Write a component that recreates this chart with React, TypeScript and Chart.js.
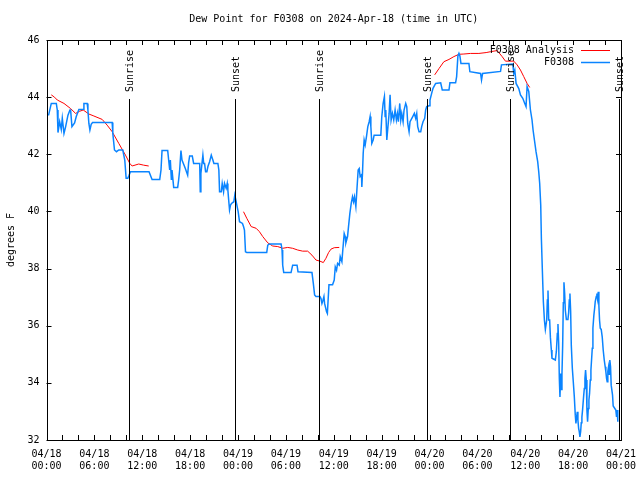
import React, { useEffect, useRef } from 'react';
import { Chart, registerables } from 'chart.js';

Chart.register(...registerables);

// Hours since 2024-04-18 00:00 UTC
const obsHours = [
  0.1, 0.27, 0.6, 1.23, 1.35, 1.44, 1.65, 1.85, 1.98, 2.19, 2.4, 2.69, 2.94, 3.02, 3.19, 3.52, 3.73, 4.06, 4.6, 4.69,
  5.1, 5.19, 5.31, 5.44, 5.6, 5.77, 8.23, 8.31, 8.52, 8.77, 9.06, 9.56, 9.81, 9.98, 10.19, 10.31, 10.52, 12.85, 13.23, 14.19,
  14.35, 14.48, 15.19, 15.31, 15.44, 15.52, 15.65, 15.73, 15.94, 16.44, 16.56, 16.69, 16.85, 16.98, 17.19, 17.4, 17.69, 17.81, 17.94, 18.27,
  18.44, 19.2, 19.27, 19.35, 19.6, 19.7, 19.81, 19.94, 20.1, 20.23, 20.44, 20.65, 20.85, 20.98, 21.48, 21.6, 21.69, 21.9, 22.02, 22.19,
  22.31, 22.52, 22.65, 22.73, 22.85, 22.94, 23.06, 23.19, 23.48, 23.6, 23.77, 23.9, 24.02, 24.19, 24.56, 24.69, 24.81, 24.94, 25.1, 27.6,
  27.73, 27.94, 29.4, 29.52, 29.6, 29.73, 30.65, 30.85, 31.4, 31.52, 33.27, 33.44, 33.6, 33.77, 34.27, 34.4, 34.52, 34.65, 34.77, 34.85,
  35.1, 35.2, 35.4, 35.85, 36.06, 36.19, 36.35, 36.48, 36.69, 36.81, 37.02, 37.1, 37.31, 37.44, 37.52, 37.73, 37.85, 38.02, 38.19, 38.35,
  38.48, 38.6, 38.77, 38.9, 39.06, 39.19, 39.31, 39.48, 39.52, 39.6, 39.69, 39.81, 39.94, 40.1, 40.27, 40.44, 40.56, 40.65, 40.77, 40.94,
  41.06, 41.9, 42.02, 42.19, 42.35, 42.44, 42.52, 42.65, 42.77, 42.94, 43.06, 43.19, 43.35, 43.52, 43.69, 43.85, 43.98, 44.1, 44.27, 44.4,
  44.52, 44.69, 44.81, 45.02, 45.15, 45.27, 45.44, 45.56, 45.9, 46.1, 46.27, 46.4, 46.52, 46.69, 46.9, 47.02, 47.19, 47.4, 47.52, 47.65,
  47.94, 48.06, 48.27, 48.44, 48.77, 49.4, 49.6, 50.44, 50.56, 51.27, 51.4, 51.56, 51.69, 51.81, 51.94, 52.94, 53.06, 54.4, 54.52, 54.65,
  56.9, 57.02, 58.44, 58.56, 58.69, 58.85, 59.19, 59.4, 59.69, 59.94, 60.1, 60.23, 60.44, 60.65, 60.85, 60.98, 61.15, 61.35, 61.56, 61.69,
  61.81, 61.94, 62.02, 62.15, 62.27, 62.4, 62.52, 62.69, 62.77, 62.85, 62.94, 63.06, 63.15, 63.27, 63.35, 63.77, 63.9, 64.02, 64.1, 64.19,
  64.27, 64.35, 64.44, 64.52, 64.6, 64.69, 64.77, 64.85, 64.94, 65.02, 65.15, 65.35, 65.44, 65.52, 65.6, 65.69, 65.77, 65.9, 66.02, 66.15,
  66.27, 66.35, 66.44, 66.52, 66.6, 66.69, 66.77, 66.85, 66.94, 67.02, 67.1, 67.19, 67.31, 67.4, 67.48, 67.56, 67.65, 67.73, 67.81, 67.9,
  67.98, 68.06, 68.15, 68.23, 68.31, 68.4, 68.48, 68.6, 68.69, 68.77, 68.9, 68.98, 69.06, 69.15, 69.23, 69.31, 69.4, 69.52, 69.65, 69.77,
  69.9, 70.02, 70.1, 70.19, 70.27, 70.35, 70.44, 70.52, 70.6, 70.69, 70.77, 70.94, 71.02, 71.35, 71.44, 71.52, 71.6,
];

const obsDewPoint = [
  43.38, 43.38, 43.78, 43.78, 43.55, 42.76, 43.14, 42.87, 43.26, 42.73, 42.97, 43.37, 43.55, 43.55, 42.97, 43.1, 43.32, 43.57, 43.58, 43.78,
  43.78, 43.55, 43.08, 42.85, 43.05, 43.11, 43.11, 42.73, 42.15, 42.09, 42.15, 42.15, 41.8, 41.16, 41.16, 41.24, 41.39, 41.39, 41.12, 41.12,
  41.45, 42.13, 42.13, 41.8, 41.45, 41.8, 41.1, 41.45, 40.84, 40.84, 41.1, 41.45, 42.13, 41.8, 41.65, 41.5, 41.27, 41.7, 41.94, 41.94,
  41.68, 41.68, 40.69, 41.33, 41.97, 41.68, 41.68, 41.39, 41.39, 41.57, 41.74, 41.97, 41.8, 41.68, 41.68, 41.45, 40.69, 40.69, 40.98, 40.69,
  40.98, 40.81, 40.98, 40.75, 40.34, 40.05, 40.22, 40.28, 40.34, 40.57, 40.34, 40.16, 39.99, 39.64, 39.58, 39.47, 39.35, 38.59, 38.56, 38.56,
  38.82, 38.86, 38.86, 38.65, 38.12, 37.86, 37.86, 38.12, 38.12, 37.89, 37.86, 37.48, 37.08, 37.02, 37.02, 36.95, 36.78, 36.89, 37.02, 36.78,
  36.49, 36.43, 37.43, 37.43, 37.6, 38.06, 37.94, 38.18, 38.12, 38.42, 38.24, 38.53, 39.23, 39.12, 38.9, 39.12, 39.47, 39.93, 40.28, 40.51,
  40.34, 40.51, 40.17, 40.75, 41.45, 41.5, 41.22, 41.28, 40.86, 41.33, 42.03, 42.5, 42.33, 42.62, 42.97, 43.14, 43.32, 42.97, 42.38, 42.5,
  42.67, 42.67, 43.32, 43.78, 44.02, 43.32, 43.55, 42.5, 42.9, 43.43, 44.08, 43.2, 43.43, 43.2, 43.55, 43.2, 43.43, 43.14, 43.78, 43.2,
  43.43, 43.14, 43.55, 43.78, 43.67, 43.08, 42.79, 43.14, 43.32, 43.43, 43.26, 43.43, 42.97, 42.79, 42.79, 42.97, 43.14, 43.26, 43.55, 43.67,
  43.7, 43.9, 44.13, 44.31, 44.48, 44.5, 44.25, 44.25, 44.5, 44.5, 44.72, 45.44, 45.53, 45.44, 45.18, 45.18, 44.89, 44.83, 44.6, 44.83,
  44.9, 45.13, 45.16, 44.83, 44.95, 44.48, 44.3, 44.08, 43.96, 43.78, 43.67, 44.37, 44.2, 43.55, 43.2, 42.85, 42.5, 42.09, 41.74, 41.39,
  40.98, 40.22, 39.06, 37.89, 36.84, 36.2, 35.87, 36.2, 36.9, 37.23, 36.2, 36.2, 35.6, 35.15, 34.86, 34.8, 35.1, 35.73, 36.06, 35.38,
  34.16, 33.51, 34.33, 33.77, 34.3, 35.32, 36.8, 37.52, 37.13, 36.55, 36.22, 36.22, 36.46, 36.9, 37.13, 36.5, 35.32, 34.51, 34.04, 33.51,
  32.87, 32.58, 32.8, 32.99, 32.7, 32.41, 32.29, 32.11, 32.29, 32.6, 32.8, 33.07, 33.51, 33.8, 34.16, 34.45, 34.1, 33.05, 32.64, 33.1,
  33.4, 33.63, 34.1, 34.45, 34.8, 35.21, 35.91, 36.37, 36.6, 36.84, 37.02, 37.13, 36.95, 37.19, 36.7, 36.2, 35.91, 35.87, 35.6, 35.15,
  34.8, 34.56, 34.4, 34.16, 34.04, 34.4, 34.56, 34.3, 34.8, 34.56, 33.92, 33.57, 33.19, 33.05, 32.81, 33.05, 32.64,
];

const anaHours = [
  0.6, 1.0, 1.35, 2.19, 3.02, 3.65, 4.1, 4.6, 5.31, 5.94, 6.98, 7.6, 8.23, 9.06, 9.9, 10.44, 10.73, 11.56, 12.17, 12.81,
  18.0,
  24.69, 25.1, 25.65, 26.27, 26.69, 27.1, 27.73, 28.35, 28.98, 29.6, 30.23, 30.85, 31.48, 32.1, 32.73, 33.27, 33.77, 34.27, 34.69,
  35.02, 35.35, 35.65, 36.06, 36.69,
  42.0,
  48.65, 49.19, 49.8, 50.44, 51.06, 51.69, 52.31, 53.15, 54.19, 55.1, 55.65, 56.48, 56.69, 57.1, 57.52, 58.56, 58.98, 59.4, 59.81, 60.23,
  60.56,
];

const anaDewPoint = [
  44.08, 44.0, 43.9, 43.78, 43.6, 43.43, 43.5, 43.55, 43.41, 43.34, 43.22, 43.02, 42.79, 42.38, 41.97, 41.68, 41.59, 41.66, 41.62, 41.59,
  null,
  39.99, 39.76, 39.47, 39.41, 39.29, 39.12, 38.9, 38.79, 38.77, 38.71, 38.74, 38.71, 38.65, 38.61, 38.61, 38.47, 38.3, 38.26, 38.21,
  38.36, 38.56, 38.68, 38.73, 38.74,
  null,
  44.78, 45.0, 45.24, 45.32, 45.42, 45.5, 45.51, 45.53, 45.53, 45.56, 45.59, 45.63, 45.56, 45.42, 45.26, 45.26, 45.13, 44.95, 44.72, 44.48,
  44.34,
];

const sunEventHours = [10.35, 23.63, 34.13, 47.63, 58.15, 71.7];
const sunEventLabels = ['Sunrise', 'Sunset', 'Sunrise', 'Sunset', 'Sunrise', 'Sunset'];

const xTickHours = [0, 6, 12, 18, 24, 30, 36, 42, 48, 54, 60, 66, 72];
const xTickDates = ['04/18', '04/18', '04/18', '04/18', '04/19', '04/19', '04/19', '04/19', '04/20', '04/20', '04/20', '04/20', '04/21'];
const xTickTimes = ['00:00', '06:00', '12:00', '18:00', '00:00', '06:00', '12:00', '18:00', '00:00', '06:00', '12:00', '18:00', '00:00'];

const titleText = 'Dew Point for F0308 on 2024-Apr-18 (time in UTC)';
const yAxisTitle = 'degrees F';
const seriesNames = ['F0308 Analysis', 'F0308'];

const FONT = '10px "DejaVu Sans Mono", monospace';
const RED = '#ff0000';
const BLUE = '#0a84ff';

const decorPlugin = {
  id: 'decor',
  afterDatasetsDraw(chart: any) {
    const { ctx, chartArea } = chart;
    const xs = chart.scales.x;
    const ys = chart.scales.y;
    const L = chartArea.left, R = chartArea.right, T = chartArea.top, B = chartArea.bottom;
    ctx.save();
    ctx.strokeStyle = '#000';
    ctx.lineWidth = 1;
    // frame
    ctx.strokeRect(Math.round(L) + 0.5, Math.round(T) + 0.5, Math.round(R) - Math.round(L), Math.round(B) - Math.round(T));
    // x ticks (every 2 h), inward top and bottom
    ctx.beginPath();
    for (let h = 0; h <= 72; h += 2) {
      const px = Math.round(xs.getPixelForValue(h)) + 0.5;
      ctx.moveTo(px, B); ctx.lineTo(px, B - 5);
      ctx.moveTo(px, T); ctx.lineTo(px, T + 5);
    }
    for (let v = 32; v <= 46; v += 2) {
      const py = Math.round(ys.getPixelForValue(v)) + 0.5;
      ctx.moveTo(L, py); ctx.lineTo(L + 5, py);
      ctx.moveTo(R, py); ctx.lineTo(R - 5, py);
    }
    ctx.stroke();
    // sunrise / sunset lines
    ctx.font = FONT;
    ctx.fillStyle = '#000';
    sunEventHours.forEach((h, i) => {
      const px = Math.round(xs.getPixelForValue(h)) + 0.5;
      ctx.beginPath();
      ctx.moveTo(px, 99);
      ctx.lineTo(px, B);
      ctx.stroke();
      ctx.save();
      ctx.translate(px + 1, 92);
      ctx.rotate(-Math.PI / 2);
      ctx.textAlign = 'left';
      ctx.textBaseline = 'middle';
      ctx.fillText(sunEventLabels[i], 0, 0);
      ctx.restore();
    });
    // title
    ctx.textAlign = 'center';
    ctx.textBaseline = 'middle';
    ctx.fillText(titleText, (L + R) / 2, 19.5);
    // y-axis title
    ctx.save();
    ctx.translate(11.5, (T + B) / 2);
    ctx.rotate(-Math.PI / 2);
    ctx.fillText(yAxisTitle, 0, 0);
    ctx.restore();
    // legend
    ctx.textAlign = 'right';
    ctx.fillText(seriesNames[0], 574, 50);
    ctx.fillText(seriesNames[1], 574, 62.5);
    ctx.lineWidth = 1;
    ctx.strokeStyle = RED;
    ctx.beginPath(); ctx.moveTo(581, 50.5); ctx.lineTo(610, 50.5); ctx.stroke();
    ctx.strokeStyle = BLUE;
    ctx.lineWidth = 1.5;
    ctx.beginPath(); ctx.moveTo(581, 62.5); ctx.lineTo(610, 62.5); ctx.stroke();
    ctx.restore();
  },
};

export default function App() {
  const ref = useRef<HTMLCanvasElement | null>(null);
  useEffect(() => {
    if (!ref.current) return;
    const chart = new Chart(ref.current, {
      type: 'line',
      data: {
        datasets: [
          {
            label: seriesNames[0],
            data: anaHours.map((h, i) => ({ x: h, y: anaDewPoint[i] as any })),
            borderColor: RED,
            borderWidth: 1,
            pointRadius: 0,
            spanGaps: false,
            order: 2,
          },
          {
            label: seriesNames[1],
            data: obsHours.map((h, i) => ({ x: h, y: obsDewPoint[i] })),
            borderColor: BLUE,
            borderWidth: 1.5,
            pointRadius: 0,
            order: 1,
          },
        ],
      },
      options: {
        animation: false,
        responsive: false,
        devicePixelRatio: 1,
        layout: { padding: { left: 0, right: 19, top: 40, bottom: 0 } },
        plugins: { legend: { display: false }, title: { display: false }, tooltip: { enabled: false } },
        scales: {
          x: {
            type: 'linear',
            min: 0,
            max: 72,
            grid: { display: false, drawTicks: false },
            border: { display: false },
            afterFit: (s: any) => { s.height = 40; s.paddingLeft = 0; s.paddingRight = 0; },
            afterBuildTicks: (s: any) => { s.ticks = xTickHours.map((v) => ({ value: v })); },
            ticks: {
              autoSkip: false,
              maxRotation: 0,
              minRotation: 0,
              padding: 8,
              color: '#000',
              font: { family: '"DejaVu Sans Mono", monospace', size: 10, lineHeight: 1.24 },
              callback: (v: any) => {
                const i = xTickHours.indexOf(Number(v));
                return i >= 0 ? [xTickDates[i], xTickTimes[i]] : '';
              },
            },
          },
          y: {
            type: 'linear',
            min: 32,
            max: 46,
            grid: { display: false, drawTicks: false },
            border: { display: false },
            afterFit: (s: any) => { s.width = 46.5; s.paddingTop = 0; s.paddingBottom = 0; },
            ticks: {
              stepSize: 2,
              padding: 7,
              color: '#000',
              font: { family: '"DejaVu Sans Mono", monospace', size: 10 },
            },
          },
        },
      },
      plugins: [decorPlugin],
    } as any);
    return () => chart.destroy();
  }, []);
  return (
    <div style={{ position: 'absolute', left: 0, top: 0, width: 640, height: 480, background: '#fff' }}>
      <canvas ref={ref} width={640} height={480} style={{ display: 'block' }} />
    </div>
  );
}
